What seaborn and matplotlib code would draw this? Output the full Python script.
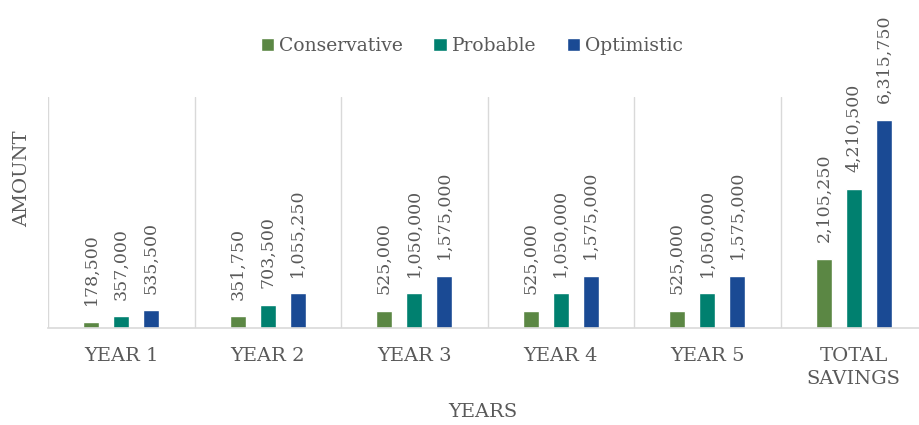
import pandas as pd
import numpy as np
import matplotlib.pyplot as plt
import seaborn as sns

# Valores do gráfico
categories = ["YEAR 1", "YEAR 2", "YEAR 3", "YEAR 4", "YEAR 5", "TOTAL\nSAVINGS"]
series = ["Conservative", "Probable", "Optimistic"]
conservative = [178500, 351750, 525000, 525000, 525000, 2105250]
probable = [357000, 703500, 1050000, 1050000, 1050000, 4210500]
optimistic = [535500, 1055250, 1575000, 1575000, 1575000, 6315750]

colors = ["#5B8744", "#00806F", "#1A4A94"]
text_color = "#595959"
grid_color = "#D9D9D9"

df = pd.DataFrame({
    "Year": categories * 3,
    "Scenario": [s for s in series for _ in categories],
    "Amount": conservative + probable + optimistic,
})

sns.set_style("white")
plt.rcParams["font.family"] = ["DejaVu Serif"]

fig = plt.figure(figsize=(9.19, 4.25), dpi=100)
ax = fig.add_axes([48 / 919, 1 - 328 / 425, 879 / 919, 231 / 425])

sns.barplot(
    data=df, x="Year", y="Amount", hue="Scenario", order=categories,
    hue_order=series, palette=colors, width=0.614, gap=0.47,
    saturation=1, ax=ax, legend=True,
)

# Rótulos de dados rotacionados
for container in ax.containers:
    ax.bar_label(
        container, labels=[f"{v:,.0f}" for v in container.datavalues],
        rotation=90, padding=12, fontsize=12.5, color=text_color,
    )

ax.set_ylim(0, 7000000)
ax.set_xlim(-0.5, 5.5)
ax.set_yticks([])
for i in range(7):
    ax.axvline(i - 0.5, color=grid_color, lw=1, zorder=0)

for side in ["top", "right", "left"]:
    ax.spines[side].set_visible(False)
ax.spines["bottom"].set_color(grid_color)
ax.spines["bottom"].set_linewidth(1.2)

ax.tick_params(axis="x", length=0, pad=14, labelsize=14, labelcolor=text_color)
for lbl in ax.get_xticklabels():
    lbl.set_linespacing(1.35)

ax.set_xlabel("YEARS", fontsize=14, color=text_color)
ax.set_ylabel("AMOUNT", fontsize=14, color=text_color)
ax.xaxis.set_label_coords(0.495, -0.325)
ax.yaxis.set_label_coords(-0.019, 0.645)

handles, labels = ax.get_legend_handles_labels()
ax.legend_.remove()
fig.legend(
    handles, labels, loc="center", bbox_to_anchor=(472 / 919, 1 - 46 / 425),
    ncol=3, frameon=False, fontsize=13.5, labelcolor=text_color,
    handlelength=0.7, handleheight=0.7, handletextpad=0.3, columnspacing=1.6,
)

plt.savefig("out.png", dpi=100)
